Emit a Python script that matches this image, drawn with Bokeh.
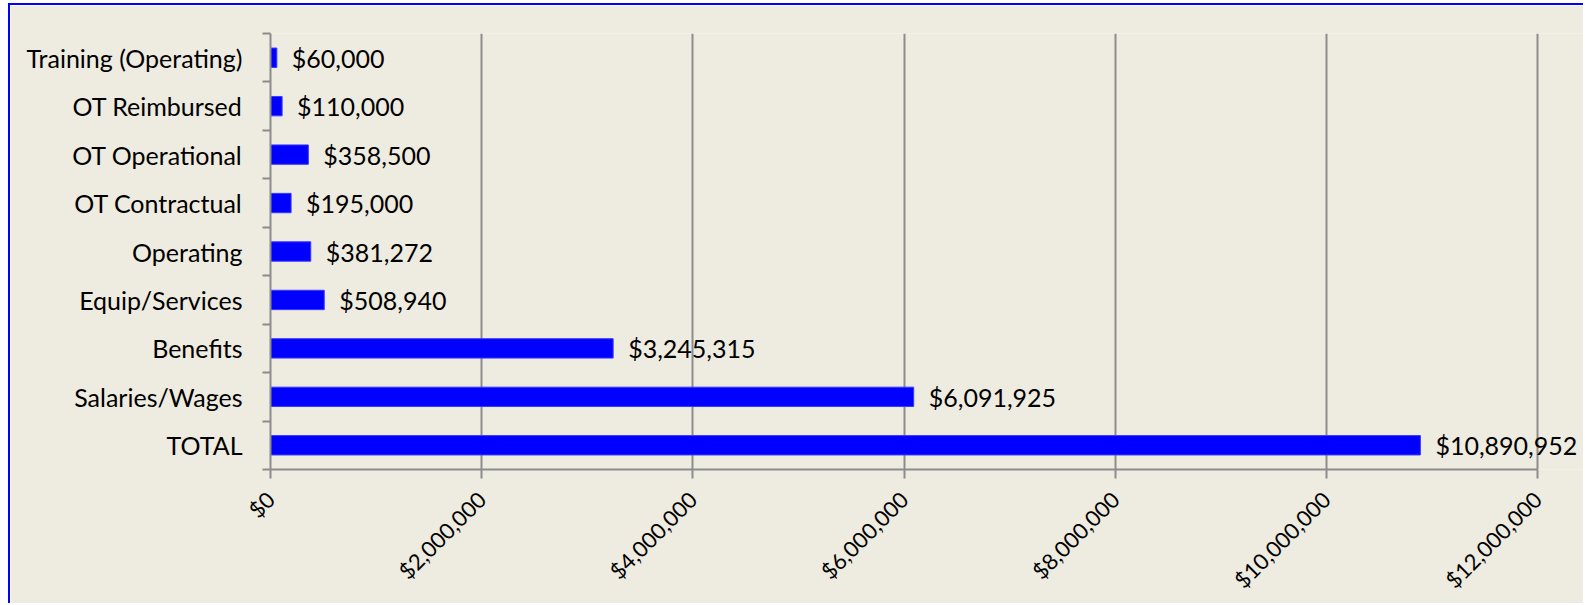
import math
from bokeh.plotting import figure
from bokeh.models import Range1d, FixedTicker, ColumnDataSource, LabelSet
from bokeh.embed import file_html
from bokeh.resources import INLINE
from bokeh.core.properties import value

categories = ["TOTAL", "Salaries/Wages", "Benefits", "Equip/Services", "Operating",
              "OT Contractual", "OT Operational", "OT Reimbursed", "Training (Operating)"]
amounts = [10890952, 6091925, 3245315, 508940, 381272, 195000, 358500, 110000, 60000]
amount_labels = ["$10,890,952", "$6,091,925", "$3,245,315", "$508,940", "$381,272",
                 "$195,000", "$358,500", "$110,000", "$60,000"]
x_ticks = [0, 2000000, 4000000, 6000000, 8000000, 10000000, 12000000]
x_tick_labels = ["$0", "$2,000,000", "$4,000,000", "$6,000,000", "$8,000,000",
                 "$10,000,000", "$12,000,000"]

FONT = "Lato"
FSIZE = "25px"
BG = "#EEEBE0"
GRID = "#8C8C8C"

ypos = [i + 0.5 for i in range(len(categories))]
src = ColumnDataSource(dict(y=ypos, v=amounts, lab=amount_labels))

# frame extends past the last tick so the value labels are not clipped
x_end = 12000000 * (1575 - 260) / (1527 - 260)

p = figure(width=1575, height=600, output_backend="svg", toolbar_location=None,
           x_range=Range1d(0, x_end), y_range=Range1d(0, len(categories)),
           min_border_left=260, min_border_top=28, min_border_right=0, min_border_bottom=134)
p.background_fill_color = BG
p.border_fill_color = BG
p.outline_line_color = None
p.styles = {"border-left": "2px solid #0000FF", "border-top": "2px solid #0000FF",
            "margin-left": "8px", "margin-top": "3px"}

p.hbar(y="y", left=0, right="v", height=0.4, source=src,
       fill_color="#0000FF", line_color="#3A3AFF", line_width=1)
labels = LabelSet(x="v", y="y", text="lab", source=src, x_offset=15,
                  text_baseline="middle", text_align="left",
                  text_font=value(FONT), text_font_size=FSIZE, text_color="#000000")
p.add_layout(labels)

# x axis
xa = p.xaxis[0]
xa.bounds = (0, 12000000)
xa.ticker = FixedTicker(ticks=x_ticks, minor_ticks=[])
xa.major_label_overrides = {t: l for t, l in zip(x_ticks, x_tick_labels)}
xa.major_label_orientation = math.pi / 4
xa.major_label_text_font = FONT
xa.major_label_text_font_size = "22px"
xa.major_label_text_color = "#000000"
xa.major_label_standoff = 17
xa.axis_line_color = GRID
xa.axis_line_width = 2
xa.major_tick_line_color = GRID
xa.major_tick_line_width = 2
xa.major_tick_in = 0
xa.major_tick_out = 9
xa.minor_tick_line_color = None

# y axis
ya = p.yaxis[0]
ya.ticker = FixedTicker(ticks=ypos, minor_ticks=list(range(len(categories) + 1)))
ya.major_label_overrides = {y: c for y, c in zip(ypos, categories)}
ya.major_label_text_font = FONT
ya.major_label_text_font_size = FSIZE
ya.major_label_text_color = "#000000"
ya.major_label_standoff = 20
ya.axis_line_color = GRID
ya.axis_line_width = 2
ya.major_tick_line_color = None
ya.major_tick_in = 0
ya.major_tick_out = 0
ya.minor_tick_line_color = GRID
ya.minor_tick_line_width = 2
ya.minor_tick_in = 0
ya.minor_tick_out = 8

p.ygrid.visible = False
p.xgrid.ticker = FixedTicker(ticks=x_ticks)
p.xgrid.grid_line_color = GRID
p.xgrid.grid_line_width = 2

open("out.html", "w").write(file_html(p, INLINE))
